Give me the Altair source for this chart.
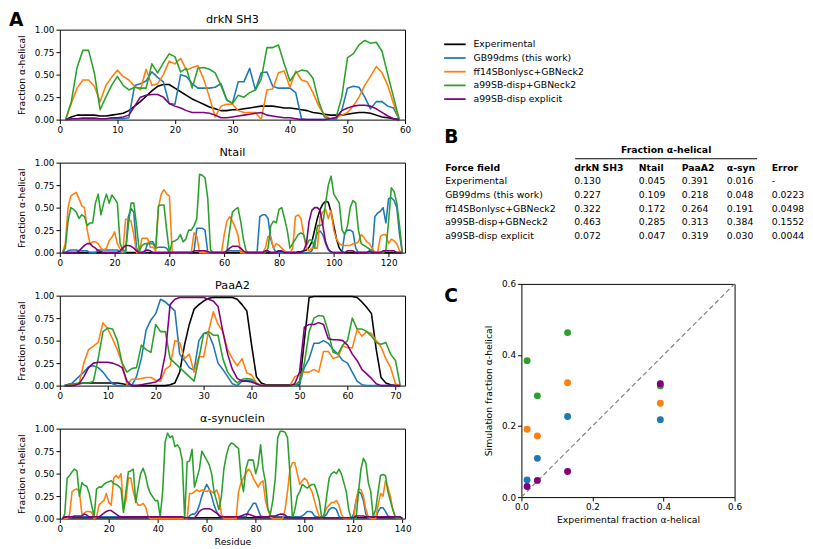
import altair as alt
import pandas as pd

FONT = "DejaVu Sans"
SERIES = ["Experimental", "GB99dms (this work)", "ff14SBonlysc+GBNeck2",
          "a99SB-disp+GBNeck2", "a99SB-disp explicit"]
COLORS = ["#000000", "#1f77b4", "#ff7f0e", "#2ca02c", "#800080"]

# ---------------- drkN SH3 (residues 1..59) ----------------
DRKN_EXP = [0.00, 0.03, 0.05, 0.05, 0.05, 0.05, 0.04, 0.04, 0.05, 0.06,
            0.07, 0.10, 0.15, 0.20, 0.26, 0.32, 0.37, 0.39, 0.39, 0.35,
            0.31, 0.27, 0.23, 0.20, 0.17, 0.14, 0.12, 0.10, 0.10, 0.11,
            0.11, 0.12, 0.13, 0.14, 0.15, 0.15, 0.15, 0.14, 0.13, 0.13,
            0.12, 0.11, 0.10, 0.08, 0.07, 0.06, 0.05, 0.05, 0.05, 0.06,
            0.07, 0.08, 0.08, 0.07, 0.05, 0.03, 0.02, 0.01, 0.00]
DRKN_GB99 = [0.00, 0.01, 0.01, 0.02, 0.02, 0.02, 0.01, 0.01, 0.01, 0.01,
             0.01, 0.02, 0.38, 0.40, 0.43, 0.53, 0.47, 0.42, 0.18, 0.17,
             0.50, 0.48, 0.40, 0.35, 0.35, 0.35, 0.36, 0.40, 0.22, 0.18,
             0.42, 0.42, 0.57, 0.33, 0.52, 0.53, 0.37, 0.35, 0.35, 0.35,
             0.30, 0.01, 0.00, 0.00, 0.00, 0.00, 0.00, 0.00, 0.10, 0.35,
             0.37, 0.36, 0.25, 0.12, 0.20, 0.20, 0.15, 0.13, 0.00]
DRKN_FF14 = [0.00, 0.18, 0.35, 0.44, 0.44, 0.37, 0.20, 0.38, 0.47, 0.55,
             0.48, 0.44, 0.37, 0.33, 0.56, 0.38, 0.40, 0.50, 0.65, 0.62,
             0.68, 0.55, 0.58, 0.60, 0.45, 0.25, 0.03, 0.15, 0.17, 0.17,
             0.10, 0.08, 0.08, 0.08, 0.00, 0.33, 0.34, 0.52, 0.54, 0.36,
             0.54, 0.44, 0.42, 0.30, 0.15, 0.05, 0.01, 0.02, 0.05, 0.08,
             0.15, 0.25, 0.38, 0.48, 0.59, 0.52, 0.38, 0.18, 0.00]
DRKN_A99GB = [0.00, 0.20, 0.58, 0.77, 0.77, 0.52, 0.11, 0.25, 0.38, 0.48,
              0.38, 0.33, 0.36, 0.35, 0.35, 0.62, 0.52, 0.63, 0.73, 0.70,
              0.53, 0.57, 0.35, 0.57, 0.58, 0.56, 0.52, 0.38, 0.22, 0.18,
              0.27, 0.25, 0.30, 0.33, 0.45, 0.80, 0.80, 0.83, 0.62, 0.43,
              0.52, 0.55, 0.54, 0.46, 0.20, 0.03, 0.01, 0.02, 0.25, 0.69,
              0.73, 0.83, 0.88, 0.85, 0.86, 0.76, 0.50, 0.25, 0.00]
DRKN_A99EX = [0.00, 0.01, 0.01, 0.01, 0.01, 0.01, 0.01, 0.01, 0.02, 0.02,
              0.03, 0.05, 0.15, 0.25, 0.27, 0.28, 0.28, 0.25, 0.18, 0.15,
              0.13, 0.10, 0.08, 0.08, 0.08, 0.07, 0.05, 0.02, 0.02, 0.03,
              0.04, 0.05, 0.06, 0.07, 0.08, 0.05, 0.04, 0.03, 0.02, 0.02,
              0.01, 0.00, 0.00, 0.00, 0.00, 0.00, 0.01, 0.02, 0.10, 0.13,
              0.15, 0.16, 0.16, 0.15, 0.12, 0.08, 0.04, 0.01, 0.00]

# ---------------- Ntail (residues 1..125) ----------------
NTAIL_EXP = [0.00, 0.00, 0.00, 0.00, 0.00, 0.00, 0.00, 0.00, 0.00, 0.00,
             0.00, 0.00, 0.00, 0.00, 0.00, 0.00, 0.00, 0.00, 0.00, 0.00,
             0.00, 0.00, 0.00, 0.00, 0.00, 0.00, 0.00, 0.00, 0.00, 0.00,
             0.00, 0.00, 0.00, 0.00, 0.00, 0.00, 0.00, 0.00, 0.00, 0.00,
             0.00, 0.00, 0.00, 0.00, 0.00, 0.00, 0.00, 0.00, 0.00, 0.00,
             0.00, 0.00, 0.00, 0.00, 0.00, 0.00, 0.00, 0.00, 0.00, 0.00,
             0.00, 0.00, 0.00, 0.00, 0.00, 0.00, 0.00, 0.00, 0.00, 0.00,
             0.00, 0.00, 0.00, 0.00, 0.00, 0.00, 0.00, 0.00, 0.01, 0.02,
             0.01, 0.00, 0.00, 0.00, 0.00, 0.00, 0.01, 0.01, 0.02, 0.03,
             0.06, 0.12, 0.25, 0.38, 0.48, 0.54, 0.57, 0.56, 0.45, 0.30,
             0.15, 0.05, 0.01, 0.00, 0.00, 0.00, 0.00, 0.00, 0.00, 0.00,
             0.00, 0.00, 0.00, 0.00, 0.00, 0.00, 0.00, 0.00, 0.00, 0.00,
             0.00, 0.00, 0.00, 0.00, 0.00]
NTAIL_GB99 = [0.00, 0.00, 0.02, 0.03, 0.03, 0.03, 0.02, 0.02, 0.02, 0.02,
              0.00, 0.00, 0.00, 0.03, 0.03, 0.03, 0.03, 0.03, 0.03, 0.03,
              0.03, 0.00, 0.00, 0.00, 0.40, 0.49, 0.45, 0.05, 0.00, 0.00,
              0.00, 0.10, 0.12, 0.12, 0.05, 0.06, 0.06, 0.06, 0.05, 0.00,
              0.00, 0.00, 0.00, 0.00, 0.00, 0.00, 0.00, 0.00, 0.02, 0.27,
              0.27, 0.27, 0.25, 0.00, 0.00, 0.00, 0.00, 0.00, 0.00, 0.00,
              0.02, 0.02, 0.02, 0.02, 0.02, 0.02, 0.00, 0.00, 0.00, 0.00,
              0.00, 0.00, 0.40, 0.42, 0.42, 0.38, 0.15, 0.05, 0.00, 0.00,
              0.00, 0.00, 0.00, 0.00, 0.00, 0.00, 0.00, 0.00, 0.00, 0.00,
              0.00, 0.02, 0.12, 0.22, 0.24, 0.20, 0.10, 0.03, 0.00, 0.00,
              0.00, 0.00, 0.00, 0.22, 0.25, 0.25, 0.23, 0.05, 0.00, 0.00,
              0.00, 0.00, 0.00, 0.00, 0.40, 0.44, 0.46, 0.50, 0.33, 0.60,
              0.61, 0.58, 0.50, 0.20, 0.00]
NTAIL_FF14 = [0.00, 0.10, 0.50, 0.63, 0.65, 0.67, 0.60, 0.52, 0.50, 0.25,
              0.10, 0.12, 0.12, 0.10, 0.05, 0.03, 0.05, 0.13, 0.17, 0.23,
              0.10, 0.04, 0.00, 0.37, 0.37, 0.35, 0.20, 0.00, 0.00, 0.16,
              0.16, 0.16, 0.06, 0.06, 0.02, 0.50, 0.65, 0.70, 0.65, 0.63,
              0.00, 0.00, 0.00, 0.00, 0.00, 0.00, 0.00, 0.01, 0.22, 0.18,
              0.00, 0.00, 0.00, 0.00, 0.00, 0.00, 0.00, 0.00, 0.00, 0.20,
              0.35, 0.40, 0.35, 0.28, 0.20, 0.00, 0.00, 0.00, 0.00, 0.00,
              0.00, 0.00, 0.00, 0.00, 0.05, 0.18, 0.18, 0.05, 0.10, 0.08,
              0.05, 0.02, 0.00, 0.00, 0.05, 0.40, 0.42, 0.38, 0.20, 0.05,
              0.02, 0.05, 0.05, 0.05, 0.40, 0.45, 0.48, 0.38, 0.47, 0.25,
              0.15, 0.10, 0.08, 0.08, 0.08, 0.08, 0.10, 0.10, 0.12, 0.20,
              0.17, 0.12, 0.10, 0.05, 0.00, 0.00, 0.18, 0.20, 0.20, 0.10,
              0.15, 0.13, 0.10, 0.02, 0.00]
NTAIL_A99GB = [0.00, 0.05, 0.35, 0.50, 0.48, 0.45, 0.38, 0.42, 0.40, 0.30,
               0.33, 0.33, 0.55, 0.65, 0.42, 0.55, 0.65, 0.55, 0.64, 0.60,
               0.55, 0.10, 0.03, 0.02, 0.30, 0.55, 0.55, 0.30, 0.02, 0.08,
               0.10, 0.10, 0.10, 0.10, 0.05, 0.52, 0.53, 0.53, 0.25, 0.00,
               0.12, 0.13, 0.15, 0.20, 0.12, 0.15, 0.25, 0.25, 0.30, 0.38,
               0.87, 0.86, 0.83, 0.60, 0.03, 0.00, 0.00, 0.00, 0.00, 0.00,
               0.02, 0.25, 0.45, 0.48, 0.50, 0.35, 0.15, 0.02, 0.00, 0.00,
               0.00, 0.00, 0.00, 0.00, 0.00, 0.05, 0.30, 0.35, 0.33, 0.48,
               0.50, 0.38, 0.25, 0.05, 0.10, 0.15, 0.20, 0.22, 0.20, 0.08,
               0.14, 0.14, 0.05, 0.30, 0.30, 0.32, 0.55, 0.75, 0.85, 0.65,
               0.60, 0.55, 0.25, 0.20, 0.30, 0.50, 0.58, 0.55, 0.25, 0.10,
               0.08, 0.06, 0.04, 0.02, 0.00, 0.00, 0.00, 0.00, 0.02, 0.35,
               0.72, 0.68, 0.55, 0.30, 0.00]
NTAIL_A99EX = [0.00, 0.00, 0.00, 0.00, 0.00, 0.00, 0.02, 0.05, 0.08, 0.10,
               0.10, 0.07, 0.05, 0.02, 0.01, 0.00, 0.00, 0.00, 0.00, 0.00,
               0.00, 0.02, 0.05, 0.08, 0.08, 0.07, 0.05, 0.02, 0.00, 0.00,
               0.02, 0.03, 0.02, 0.00, 0.00, 0.00, 0.00, 0.00, 0.00, 0.00,
               0.00, 0.00, 0.00, 0.00, 0.00, 0.00, 0.00, 0.00, 0.02, 0.02,
               0.02, 0.02, 0.02, 0.01, 0.00, 0.00, 0.00, 0.00, 0.00, 0.00,
               0.02, 0.05, 0.07, 0.07, 0.07, 0.05, 0.02, 0.00, 0.00, 0.00,
               0.00, 0.00, 0.00, 0.00, 0.02, 0.02, 0.00, 0.00, 0.00, 0.02,
               0.02, 0.00, 0.00, 0.00, 0.00, 0.00, 0.00, 0.00, 0.02, 0.10,
               0.35, 0.47, 0.50, 0.50, 0.47, 0.30, 0.12, 0.04, 0.01, 0.00,
               0.00, 0.00, 0.00, 0.00, 0.02, 0.02, 0.02, 0.00, 0.00, 0.00,
               0.00, 0.00, 0.02, 0.00, 0.00, 0.00, 0.00, 0.02, 0.02, 0.02,
               0.02, 0.02, 0.00, 0.00, 0.00]

# ---------------- PaaA2 (residues 1..71) ----------------
PAAA2_EXP = [0.00, 0.00, 0.01, 0.02, 0.03, 0.03, 0.03, 0.03, 0.03, 0.03,
             0.03, 0.03, 0.02, 0.01, 0.00, 0.00, 0.00, 0.00, 0.00, 0.00,
             0.00, 0.00, 0.01, 0.03, 0.15, 0.45, 0.68, 0.85, 0.90, 0.94,
             0.97, 0.98, 0.98, 0.98, 0.98, 0.98, 0.96, 0.90, 0.83, 0.45,
             0.10, 0.03, 0.01, 0.01, 0.01, 0.01, 0.01, 0.01, 0.01, 0.01,
             0.50, 0.98, 0.99, 0.99, 0.99, 0.99, 0.99, 0.99, 0.99, 0.99,
             0.99, 0.98, 0.93, 0.87, 0.80, 0.40, 0.09, 0.03, 0.01, 0.00,
             0.00]
PAAA2_GB99 = [0.00, 0.00, 0.05, 0.10, 0.15, 0.21, 0.22, 0.20, 0.15, 0.08,
              0.02, 0.00, 0.00, 0.00, 0.00, 0.10, 0.30, 0.62, 0.73, 0.80,
              0.96, 0.93, 0.88, 0.83, 0.35, 0.28, 0.20, 0.17, 0.50, 0.58,
              0.58, 0.45, 0.25, 0.18, 0.10, 0.02, 0.00, 0.05, 0.06, 0.05,
              0.02, 0.00, 0.00, 0.00, 0.00, 0.00, 0.00, 0.00, 0.00, 0.02,
              0.20, 0.30, 0.47, 0.47, 0.50, 0.47, 0.40, 0.35, 0.28, 0.25,
              0.15, 0.05, 0.01, 0.00, 0.00, 0.00, 0.00, 0.00, 0.00, 0.00,
              0.00]
PAAA2_FF14 = [0.00, 0.01, 0.02, 0.02, 0.25, 0.40, 0.44, 0.48, 0.70, 0.63,
              0.52, 0.40, 0.25, 0.01, 0.07, 0.07, 0.08, 0.09, 0.09, 0.06,
              0.05, 0.18, 0.22, 0.50, 0.48, 0.30, 0.35, 0.15, 0.32, 0.32,
              0.60, 0.82, 0.68, 0.60, 0.40, 0.30, 0.22, 0.30, 0.14, 0.12,
              0.03, 0.00, 0.00, 0.00, 0.00, 0.00, 0.00, 0.00, 0.10, 0.12,
              0.15, 0.15, 0.18, 0.15, 0.38, 0.38, 0.30, 0.32, 0.44, 0.42,
              0.42, 0.62, 0.55, 0.60, 0.58, 0.50, 0.43, 0.30, 0.20, 0.02,
              0.00]
PAAA2_A99GB = [0.00, 0.02, 0.02, 0.03, 0.03, 0.03, 0.05, 0.30, 0.60, 0.64,
               0.63, 0.50, 0.25, 0.15, 0.19, 0.20, 0.45, 0.40, 0.37, 0.68,
               0.60, 0.60, 0.30, 0.25, 0.20, 0.15, 0.10, 0.05, 0.30, 0.58,
               0.60, 0.56, 0.56, 0.30, 0.15, 0.08, 0.03, 0.07, 0.08, 0.07,
               0.02, 0.00, 0.00, 0.00, 0.00, 0.00, 0.00, 0.00, 0.00, 0.05,
               0.25, 0.60, 0.75, 0.78, 0.77, 0.60, 0.37, 0.35, 0.45, 0.50,
               0.75, 0.63, 0.63, 0.60, 0.55, 0.48, 0.46, 0.48, 0.35, 0.28,
               0.00]
PAAA2_A99EX = [0.00, 0.00, 0.00, 0.02, 0.10, 0.20, 0.25, 0.26, 0.26, 0.26,
               0.25, 0.23, 0.20, 0.05, 0.00, 0.00, 0.01, 0.02, 0.03, 0.04,
               0.08, 0.35, 0.90, 0.96, 0.98, 0.98, 0.98, 0.98, 0.98, 0.98,
               0.96, 0.94, 0.88, 0.60, 0.35, 0.18, 0.08, 0.05, 0.05, 0.04,
               0.02, 0.00, 0.00, 0.00, 0.00, 0.00, 0.00, 0.00, 0.02, 0.15,
               0.65, 0.68, 0.68, 0.70, 0.68, 0.52, 0.51, 0.51, 0.50, 0.45,
               0.35, 0.28, 0.18, 0.13, 0.08, 0.02, 0.00, 0.00, 0.00, 0.00,
               0.00]

# ---------------- alpha-synuclein (residues 1..140) ----------------
ASYN_EXP = [0.00, 0.01, 0.01, 0.01, 0.01, 0.01, 0.01, 0.01, 0.01, 0.01,
            0.01, 0.01, 0.01, 0.01, 0.01, 0.01, 0.01, 0.01, 0.01, 0.01,
            0.01, 0.01, 0.01, 0.01, 0.01, 0.01, 0.01, 0.01, 0.01, 0.01,
            0.01, 0.01, 0.01, 0.01, 0.01, 0.01, 0.01, 0.01, 0.01, 0.01,
            0.01, 0.01, 0.01, 0.01, 0.01, 0.01, 0.01, 0.01, 0.01, 0.01,
            0.01, 0.01, 0.01, 0.01, 0.01, 0.01, 0.01, 0.01, 0.01, 0.01,
            0.01, 0.01, 0.01, 0.01, 0.01, 0.01, 0.01, 0.01, 0.01, 0.01,
            0.01, 0.01, 0.01, 0.01, 0.01, 0.01, 0.01, 0.01, 0.01, 0.01,
            0.01, 0.01, 0.01, 0.01, 0.01, 0.01, 0.01, 0.01, 0.01, 0.01,
            0.01, 0.01, 0.01, 0.01, 0.01, 0.01, 0.01, 0.01, 0.01, 0.01,
            0.01, 0.01, 0.01, 0.01, 0.01, 0.01, 0.01, 0.01, 0.01, 0.01,
            0.01, 0.01, 0.01, 0.01, 0.01, 0.01, 0.01, 0.01, 0.01, 0.01,
            0.01, 0.01, 0.01, 0.01, 0.01, 0.01, 0.01, 0.01, 0.01, 0.01,
            0.01, 0.01, 0.01, 0.01, 0.01, 0.01, 0.01, 0.01, 0.01, 0.00]
ASYN_GB99 = [0.00, 0.00, 0.00, 0.01, 0.02, 0.02, 0.02, 0.02, 0.02, 0.02,
             0.02, 0.02, 0.02, 0.02, 0.02, 0.02, 0.02, 0.02, 0.02, 0.02,
             0.02, 0.02, 0.02, 0.02, 0.02, 0.02, 0.02, 0.02, 0.02, 0.02,
             0.02, 0.02, 0.02, 0.02, 0.02, 0.02, 0.02, 0.02, 0.02, 0.02,
             0.02, 0.02, 0.02, 0.02, 0.02, 0.02, 0.02, 0.02, 0.02, 0.02,
             0.00, 0.00, 0.03, 0.05, 0.05, 0.08, 0.15, 0.25, 0.32, 0.38,
             0.33, 0.25, 0.15, 0.08, 0.03, 0.02, 0.02, 0.02, 0.02, 0.02,
             0.02, 0.02, 0.02, 0.02, 0.02, 0.02, 0.08, 0.12, 0.17, 0.17,
             0.10, 0.03, 0.02, 0.02, 0.02, 0.02, 0.02, 0.02, 0.02, 0.02,
             0.02, 0.02, 0.02, 0.02, 0.02, 0.02, 0.02, 0.02, 0.03, 0.05,
             0.08, 0.08, 0.07, 0.03, 0.02, 0.02, 0.02, 0.02, 0.05, 0.10,
             0.12, 0.12, 0.10, 0.03, 0.00, 0.00, 0.00, 0.00, 0.00, 0.05,
             0.20, 0.30, 0.28, 0.20, 0.05, 0.00, 0.00, 0.00, 0.00, 0.08,
             0.12, 0.12, 0.08, 0.03, 0.02, 0.02, 0.02, 0.02, 0.02, 0.00]
ASYN_FF14 = [0.00, 0.00, 0.00, 0.05, 0.30, 0.32, 0.33, 0.30, 0.05, 0.06,
             0.08, 0.08, 0.07, 0.00, 0.02, 0.15, 0.18, 0.20, 0.28, 0.18,
             0.15, 0.45, 0.48, 0.45, 0.50, 0.10, 0.20, 0.45, 0.45, 0.30,
             0.20, 0.15, 0.15, 0.17, 0.13, 0.03, 0.00, 0.00, 0.00, 0.00,
             0.00, 0.00, 0.00, 0.00, 0.00, 0.00, 0.00, 0.00, 0.00, 0.00,
             0.00, 0.00, 0.28, 0.28, 0.30, 0.32, 0.30, 0.32, 0.31, 0.30,
             0.32, 0.30, 0.28, 0.32, 0.25, 0.05, 0.00, 0.00, 0.00, 0.00,
             0.00, 0.00, 0.30, 0.40, 0.45, 0.50, 0.55, 0.52, 0.45, 0.40,
             0.35, 0.40, 0.42, 0.20, 0.10, 0.02, 0.00, 0.00, 0.00, 0.00,
             0.00, 0.10, 0.30, 0.55, 0.62, 0.62, 0.50, 0.38, 0.42, 0.45,
             0.42, 0.35, 0.30, 0.20, 0.10, 0.02, 0.00, 0.05, 0.12, 0.15,
             0.18, 0.18, 0.20, 0.15, 0.05, 0.00, 0.00, 0.00, 0.00, 0.00,
             0.20, 0.33, 0.32, 0.25, 0.10, 0.02, 0.00, 0.00, 0.00, 0.15,
             0.28, 0.25, 0.42, 0.35, 0.25, 0.10, 0.02, 0.00, 0.00, 0.00]
ASYN_A99GB = [0.00, 0.05, 0.45, 0.48, 0.52, 0.55, 0.53, 0.25, 0.40, 0.37,
              0.36, 0.28, 0.15, 0.02, 0.33, 0.35, 0.35, 0.38, 0.40, 0.41,
              0.42, 0.39, 0.38, 0.36, 0.33, 0.07, 0.30, 0.52, 0.53, 0.55,
              0.18, 0.35, 0.50, 0.56, 0.48, 0.35, 0.28, 0.24, 0.20, 0.20,
              0.02, 0.30, 0.85, 0.95, 0.90, 0.92, 0.80, 0.82, 0.78, 0.65,
              0.00, 0.63, 0.64, 0.77, 0.35, 0.45, 0.55, 0.75, 0.70, 0.65,
              0.60, 0.50, 0.30, 0.20, 0.10, 0.25, 0.55, 0.70, 0.80, 0.84,
              0.83, 0.80, 0.78, 0.45, 0.30, 0.55, 0.65, 0.65, 0.65, 0.50,
              0.60, 0.82, 0.55, 0.40, 0.10, 0.05, 0.20, 0.45, 0.90, 0.97,
              0.97, 0.96, 0.90, 0.50, 0.00, 0.10, 0.25, 0.30, 0.38, 0.36,
              0.34, 0.36, 0.38, 0.38, 0.30, 0.20, 0.00, 0.05, 0.25, 0.45,
              0.50, 0.52, 0.50, 0.55, 0.50, 0.40, 0.30, 0.10, 0.00, 0.00,
              0.00, 0.30, 0.55, 0.67, 0.62, 0.40, 0.30, 0.02, 0.10, 0.30,
              0.48, 0.49, 0.48, 0.30, 0.20, 0.10, 0.02, 0.00, 0.00, 0.00]
ASYN_A99EX = [0.00, 0.02, 0.02, 0.02, 0.02, 0.03, 0.03, 0.03, 0.03, 0.05,
              0.04, 0.02, 0.02, 0.02, 0.02, 0.02, 0.04, 0.06, 0.08, 0.09,
              0.09, 0.07, 0.05, 0.03, 0.02, 0.02, 0.02, 0.02, 0.02, 0.02,
              0.02, 0.02, 0.02, 0.02, 0.02, 0.02, 0.02, 0.02, 0.02, 0.02,
              0.02, 0.02, 0.02, 0.02, 0.02, 0.02, 0.02, 0.02, 0.02, 0.02,
              0.01, 0.01, 0.01, 0.01, 0.01, 0.04, 0.08, 0.10, 0.11, 0.11,
              0.11, 0.10, 0.08, 0.06, 0.04, 0.02, 0.02, 0.02, 0.02, 0.02,
              0.02, 0.02, 0.02, 0.03, 0.04, 0.05, 0.05, 0.04, 0.03, 0.02,
              0.02, 0.02, 0.02, 0.02, 0.02, 0.03, 0.03, 0.03, 0.04, 0.05,
              0.05, 0.04, 0.02, 0.01, 0.01, 0.01, 0.01, 0.01, 0.01, 0.01,
              0.01, 0.01, 0.01, 0.01, 0.01, 0.01, 0.01, 0.01, 0.01, 0.01,
              0.01, 0.01, 0.01, 0.01, 0.01, 0.01, 0.01, 0.01, 0.01, 0.01,
              0.03, 0.03, 0.03, 0.03, 0.02, 0.02, 0.02, 0.02, 0.02, 0.02,
              0.02, 0.02, 0.02, 0.02, 0.02, 0.02, 0.02, 0.02, 0.02, 0.00]

# ---------------- Table B / panel C values ----------------
TABLE_COLUMNS = ["drkN SH3", "Ntail", "PaaA2", "α-syn"]
EXP_FRAC = [0.130, 0.045, 0.391, 0.016]
GB99_FRAC = [0.227, 0.109, 0.218, 0.048]
FF14_FRAC = [0.322, 0.172, 0.264, 0.191]
A99GB_FRAC = [0.463, 0.285, 0.313, 0.384]
A99EX_FRAC = [0.072, 0.047, 0.319, 0.030]
ERRORS = ["-", "0.0223", "0.0498", "0.1552", "0.0044"]

# ---------------- layout / style ----------------
PANEL_W, PANEL_H, PANEL_GAP = 353, 92, 44
SC_SIZE = 218
INFO_H = 250
LETTER_SIZE = 19
TEXT_SIZE = 9.5

color_enc = alt.Color("force_field:N",
                      scale=alt.Scale(domain=SERIES, range=COLORS),
                      legend=None)


def long_table(series_lists):
    recs = []
    for name, vals in zip(SERIES, series_lists):
        assert len(vals) == len(series_lists[0]), (name, len(vals))
        for i, v in enumerate(vals, start=1):
            recs.append({"residue": i, "fraction": v, "force_field": name})
    return pd.DataFrame(recs)


def panel(title, xmax, ticks, series_lists, bottom=False, letter=None):
    df = long_table(series_lists)
    if bottom:
        xaxis = alt.Axis(values=ticks, format="d", title="Residue", titlePadding=3)
    else:
        xaxis = alt.Axis(values=ticks, format="d", title=None)
    lines = alt.Chart(df).mark_line(strokeWidth=1.6, strokeJoin="round").encode(
        x=alt.X("residue:Q", scale=alt.Scale(domain=[0, xmax], nice=False, zero=False), axis=xaxis),
        y=alt.Y("fraction:Q", scale=alt.Scale(domain=[0, 1], nice=False),
                axis=alt.Axis(values=[0, 0.25, 0.5, 0.75, 1.0], format=".2f",
                              title="Fraction α-helical", titlePadding=8)),
        color=color_enc,
    )
    head = alt.Chart(pd.DataFrame({"t": [title]})).mark_text(
        align="center", baseline="alphabetic", fontSize=11.5, color="black").encode(
        x=alt.value(PANEL_W / 2), y=alt.value(-7), text="t:N")
    layers = [lines, head]
    if letter:
        lab = alt.Chart(pd.DataFrame({"t": [letter]})).mark_text(
            align="left", baseline="top", fontSize=LETTER_SIZE, fontWeight="bold",
            color="black").encode(x=alt.value(-52), y=alt.value(-19), text="t:N")
        layers.append(lab)
    return alt.layer(*layers).properties(width=PANEL_W, height=PANEL_H)


p1 = panel("drkN SH3", 60, list(range(0, 61, 10)),
           [DRKN_EXP, DRKN_GB99, DRKN_FF14, DRKN_A99GB, DRKN_A99EX], letter="A")
p2 = panel("Ntail", 126, list(range(0, 121, 20)),
           [NTAIL_EXP, NTAIL_GB99, NTAIL_FF14, NTAIL_A99GB, NTAIL_A99EX])
p3 = panel("PaaA2", 72, list(range(0, 71, 10)),
           [PAAA2_EXP, PAAA2_GB99, PAAA2_FF14, PAAA2_A99GB, PAAA2_A99EX])
p4 = panel("α-synuclein", 141, list(range(0, 141, 20)),
           [ASYN_EXP, ASYN_GB99, ASYN_FF14, ASYN_A99GB, ASYN_A99EX], bottom=True)

left = alt.vconcat(p1, p2, p3, p4, spacing=PANEL_GAP, bounds="flush")

# ---------- legend + table (B) ----------
legend_df = pd.DataFrame({"force_field": SERIES})
legend_y = alt.Y("force_field:N", axis=None,
                 scale=alt.Scale(type="point", domain=SERIES, range=[15, 71], padding=0))
leg_lines = alt.Chart(legend_df).mark_rule(strokeWidth=1.8).encode(
    x=alt.value(-79), x2=alt.value(-57), y=legend_y, color=color_enc)
leg_text = alt.Chart(legend_df).mark_text(
    align="left", baseline="middle", fontSize=TEXT_SIZE, color="black").encode(
    x=alt.value(-49), y=legend_y, text="force_field:N")

b_label = alt.Chart(pd.DataFrame({"t": ["B"]})).mark_text(
    align="left", baseline="middle", fontSize=LETTER_SIZE, fontWeight="bold", color="black").encode(
    x=alt.value(-79), y=alt.value(110), text="t:N")

COL_X = [-78, 54, 120, 164, 210, 256]
HEAD = ["Force field"] + TABLE_COLUMNS + ["Error"]
frac_rows = [EXP_FRAC, GB99_FRAC, FF14_FRAC, A99GB_FRAC, A99EX_FRAC]
table_recs = []
for name, vals, err in zip(SERIES, frac_rows, ERRORS):
    rec = {"c0": name}
    for j, v in enumerate(vals, start=1):
        rec[f"c{j}"] = f"{v:.3f}"
    rec["c5"] = err
    table_recs.append(rec)
table_df = pd.DataFrame(table_recs)
head_df = pd.DataFrame([{f"h{j}": h for j, h in enumerate(HEAD)}])

row_y = alt.Y("c0:N", axis=None,
              scale=alt.Scale(type="point", domain=SERIES, range=[155, 211], padding=0))
table_layers = []
for j in range(6):
    table_layers.append(alt.Chart(table_df).mark_text(
        align="left", baseline="middle", fontSize=TEXT_SIZE, color="black").encode(
        x=alt.value(COL_X[j]), y=row_y, text=f"c{j}:N"))
    table_layers.append(alt.Chart(head_df).mark_text(
        align="left", baseline="middle", fontSize=TEXT_SIZE, fontWeight="bold", color="black").encode(
        x=alt.value(COL_X[j]), y=alt.value(142), text=f"h{j}:N"))

group_head = alt.Chart(pd.DataFrame({"t": ["Fraction α-helical"]})).mark_text(
    align="center", baseline="middle", fontSize=TEXT_SIZE, fontWeight="bold", color="black").encode(
    x=alt.value(148), y=alt.value(123), text="t:N")
group_rule = alt.Chart(pd.DataFrame({"t": ["Fraction α-helical"]})).mark_rule(
    color="black", strokeWidth=1).encode(x=alt.value(55), x2=alt.value(241), y=alt.value(132))

info = alt.layer(leg_lines, leg_text, b_label, group_head, group_rule, *table_layers).resolve_scale(
    y="independent").properties(width=SC_SIZE, height=INFO_H,
                                view=alt.ViewBackground(stroke="transparent"))

# ---------- scatter (C) ----------
sc_recs = []
for name, vals in zip(SERIES[1:], frac_rows[1:]):
    for e, v in zip(EXP_FRAC, vals):
        sc_recs.append({"exp": e, "sim": v, "force_field": name})
sc_df = pd.DataFrame(sc_recs)
diag_df = pd.DataFrame({"exp": [0.0, 0.6], "sim": [0.0, 0.6]})
sx = alt.Scale(domain=[0, 0.6], nice=False)
ticks6 = [0, 0.1, 0.2, 0.3, 0.4, 0.5, 0.6]
diag = alt.Chart(diag_df).mark_line(strokeDash=[5, 3], color="#808080", strokeWidth=1.2).encode(
    x=alt.X("exp:Q", scale=sx), y=alt.Y("sim:Q", scale=sx))
pts = alt.Chart(sc_df).mark_circle(size=50, opacity=1).encode(
    x=alt.X("exp:Q", scale=sx, axis=alt.Axis(values=ticks6, format=".1f",
                                             title="Experimental fraction α-helical", titlePadding=3)),
    y=alt.Y("sim:Q", scale=sx, axis=alt.Axis(values=ticks6, format=".1f",
                                             title="Simulation fraction α-helical", titlePadding=8)),
    color=color_enc)
c_label = alt.Chart(pd.DataFrame({"t": ["C"]})).mark_text(
    align="left", baseline="middle", fontSize=LETTER_SIZE, fontWeight="bold", color="black").encode(
    x=alt.value(-79), y=alt.value(12), text="t:N")
scatter = alt.layer(diag, pts, c_label).properties(width=SC_SIZE, height=SC_SIZE)

right = alt.vconcat(info, scatter, spacing=10, bounds="flush")

chart = alt.hconcat(left, right, spacing=31).properties(
    padding={"left": 0, "top": -4, "right": 0, "bottom": 0}
).configure(font=FONT).configure_view(
    stroke="black", strokeWidth=1
).configure_axis(
    domain=False, grid=False, tickColor="black", tickSize=4, tickWidth=1,
    labelFontSize=9, labelColor="black", labelFlush=False, labelPadding=2,
    titleFontSize=9.5, titleColor="black", titleFontWeight="normal",
    labelFont=FONT, titleFont=FONT
).configure_title(font=FONT, color="black")

chart.save("out.html", embed_options={"renderer": "svg", "actions": False})
